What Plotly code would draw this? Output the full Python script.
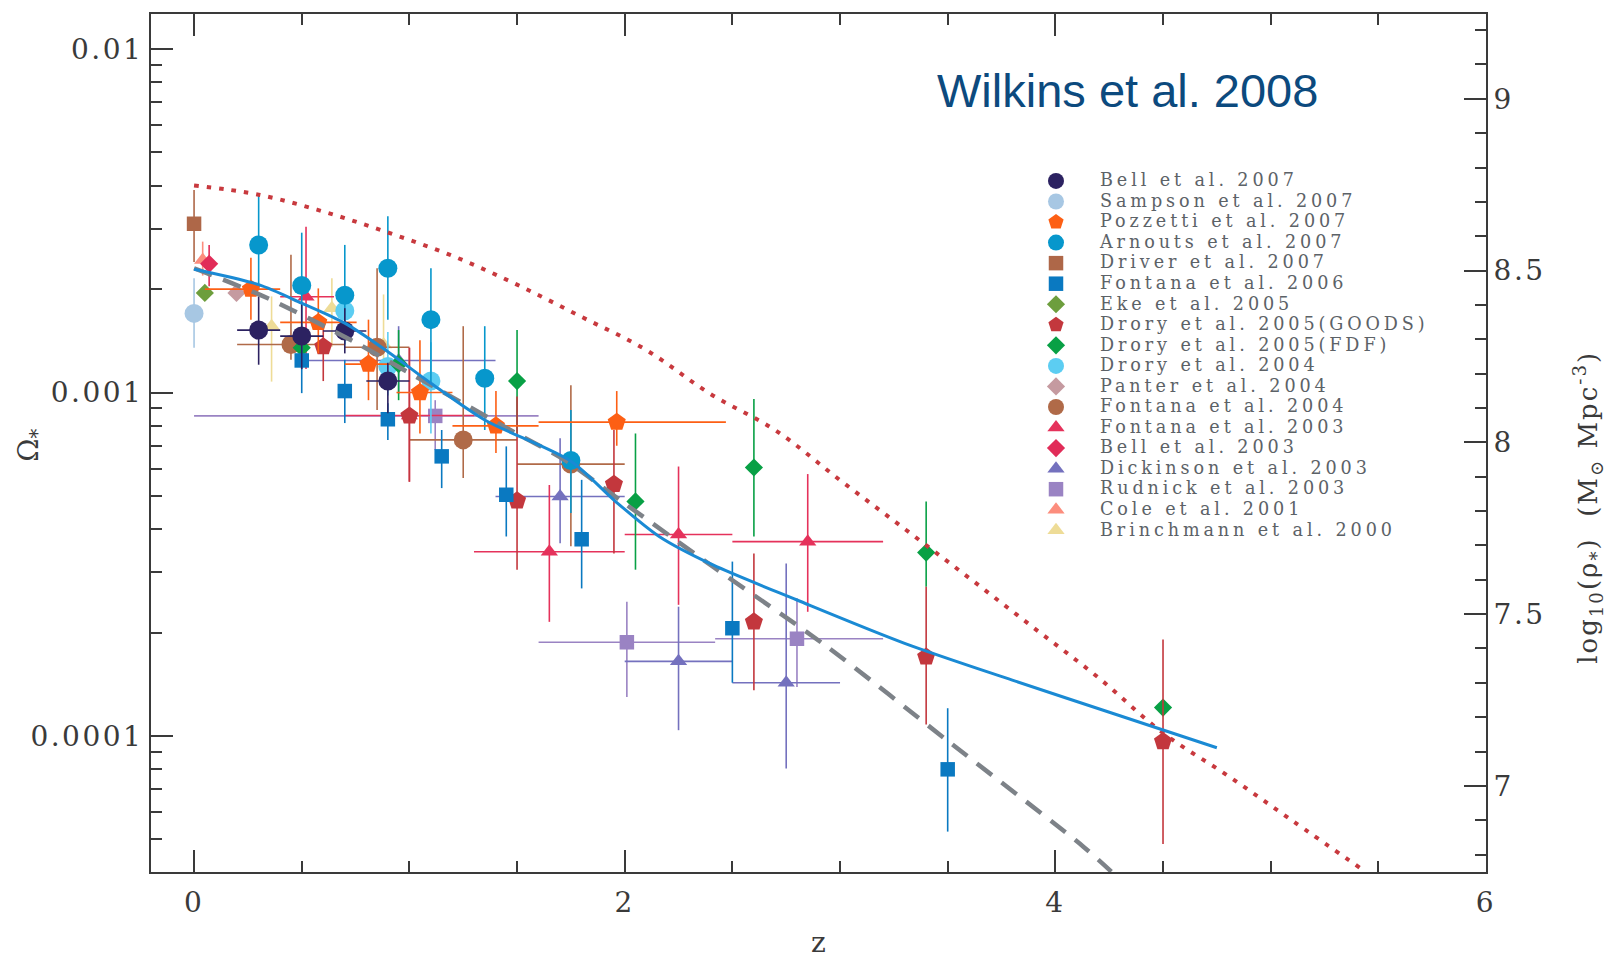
import numpy as np
import plotly.graph_objects as go

# ---------------- data ----------------
# Bell et al. 2007
bell07_z = [0.30, 0.50, 0.70, 0.90]
bell07_om = [1.52e-3, 1.46e-3, 1.51e-3, 1.08e-3]
bell07_lo = [1.205e-3, 1.17e-3, 1.30e-3, 0.87e-3]
bell07_hi = [1.905e-3, 1.82e-3, 1.76e-3, 1.22e-3]
bell07_zlo = [0.20, 0.40, 0.60, 0.80]
bell07_zhi = [0.40, 0.60, 0.80, 1.00]

# Sampson et al. 2007
sampson07_z = [0.0]
sampson07_om = [1.70e-3]
sampson07_lo = [1.35e-3]
sampson07_hi = [2.15e-3]

# Pozzetti et al. 2007
pozzetti07_z = [0.264, 0.577, 0.81, 1.049, 1.402, 1.963]
pozzetti07_om = [2.0e-3, 1.60e-3, 1.21e-3, 1.0e-3, 8.0e-4, 8.2e-4]
pozzetti07_lo = [1.63e-3, 1.30e-3, 0.95e-3, 0.76e-3, 6.67e-4, 7.0e-4]
pozzetti07_hi = [2.47e-3, 2.01e-3, 1.63e-3, 1.42e-3, 1.01e-3, 1.01e-3]
pozzetti07_zlo = [0.05, 0.40, 0.70, 0.94, 1.20, 1.60]
pozzetti07_zhi = [0.40, 0.755, 0.94, 1.20, 1.60, 2.47]

# Arnouts et al. 2007
arnouts07_z = [0.30, 0.50, 0.70, 0.90, 1.10, 1.35, 1.75]
arnouts07_om = [2.69e-3, 2.05e-3, 1.92e-3, 2.30e-3, 1.63e-3, 1.10e-3, 6.34e-4]
arnouts07_lo = [1.99e-3, 1.44e-3, 1.38e-3, 1.63e-3, 1.06e-3, 7.78e-4, 4.46e-4]
arnouts07_hi = [3.81e-3, 2.92e-3, 2.69e-3, 3.26e-3, 2.30e-3, 1.56e-3, 8.9e-4]

# Driver et al. 2007
driver07_z = [0.0]
driver07_om = [3.10e-3]
driver07_lo = [2.40e-3]
driver07_hi = [3.89e-3]

# Fontana et al. 2006
fontana06_z = [0.50, 0.70, 0.90, 1.15, 1.45, 1.80, 2.50, 3.50]
fontana06_om = [1.24e-3, 1.01e-3, 8.36e-4, 6.52e-4, 5.04e-4, 3.74e-4, 2.06e-4, 8.0e-5]
fontana06_lo = [0.996e-3, 0.815e-3, 0.728e-3, 0.527e-3, 3.81e-4, 2.69e-4, 1.43e-4, 5.27e-5]
fontana06_hi = [1.46e-3, 1.245e-3, 0.93e-3, 0.778e-3, 6.97e-4, 5.57e-4, 3.22e-4, 1.205e-4]

# Eke et al. 2005
eke05_z = [0.05]
eke05_om = [1.95e-3]

# Drory et al. 2005 (GOODS)
drory05g_z = [0.60, 1.00, 1.50, 1.95, 2.60, 3.40, 4.50]
drory05g_om = [1.36e-3, 8.55e-4, 4.84e-4, 5.41e-4, 2.15e-4, 1.70e-4, 9.64e-5]
drory05g_lo = [1.08e-3, 5.5e-4, 3.05e-4, 3.40e-4, 1.36e-4, 1.08e-4, 4.85e-5]
drory05g_hi = [1.65e-3, 1.35e-3, 9.73e-4, 7.78e-4, 3.40e-4, 2.72e-4, 1.91e-4]

# Drory et al. 2005 (FDF)
drory05f_z = [0.50, 0.95, 1.50, 2.05, 2.60, 3.40, 4.50]
drory05f_om = [1.35e-3, 1.21e-3, 1.08e-3, 4.82e-4, 6.05e-4, 3.42e-4, 1.21e-4]
drory05f_lo = [1.20e-3, 0.95e-3, 7.6e-4, 3.05e-4, 3.81e-4, 2.72e-4, 1.21e-4]
drory05f_hi = [1.52e-3, 1.52e-3, 1.52e-3, 7.6e-4, 9.57e-4, 4.82e-4, 1.21e-4]

# Drory et al. 2004
drory04_z = [0.70, 0.90, 1.10]
drory04_om = [1.73e-3, 1.19e-3, 1.08e-3]
drory04_lo = [1.50e-3, 0.98e-3, 7.6e-4]
drory04_hi = [1.95e-3, 1.50e-3, 1.40e-3]

# Panter et al. 2004
panter04_z = [0.197]
panter04_om = [1.95e-3]

# Fontana et al. 2004
fontana04_z = [0.45, 0.85, 1.25, 1.75]
fontana04_om = [1.38e-3, 1.355e-3, 7.28e-4, 6.19e-4]
fontana04_lo = [1.245e-3, 8.9e-4, 5.64e-4, 3.57e-4]
fontana04_hi = [2.52e-3, 2.30e-3, 1.56e-3, 1.05e-3]
fontana04_zlo = [0.20, 0.70, 1.00, 1.50]
fontana04_zhi = [0.70, 1.00, 1.50, 2.00]

# Fontana et al. 2003
fontana03_z = [0.52, 1.00, 1.65, 2.25, 2.85]
fontana03_om = [1.90e-3, 8.57e-4, 3.44e-4, 3.86e-4, 3.68e-4]
fontana03_lo = [1.17e-3, 5.5e-4, 2.15e-4, 2.41e-4, 2.30e-4]
fontana03_hi = [3.04e-3, 1.35e-3, 5.38e-4, 6.09e-4, 5.79e-4]
fontana03_zlo = [0.40, 0.70, 1.30, 2.00, 2.50]
fontana03_zhi = [0.65, 1.30, 2.00, 2.50, 3.20]

# Bell et al. 2003
bell03_z = [0.07]
bell03_om = [2.37e-3]
bell03_lo = [2.04e-3]
bell03_hi = [2.69e-3]

# Dickinson et al. 2003
dickinson03_z = [0.95, 1.70, 2.25, 2.75]
dickinson03_om = [1.24e-3, 4.98e-4, 1.65e-4, 1.43e-4]
dickinson03_lo = [9.9e-4, 3.64e-4, 1.04e-4, 8.05e-5]
dickinson03_hi = [1.56e-3, 7.36e-4, 2.38e-4, 3.18e-4]
dickinson03_zlo = [0.52, 1.40, 2.00, 2.50]
dickinson03_zhi = [1.40, 2.00, 2.50, 3.00]

# Rudnick et al. 2003
rudnick03_z = [1.12, 2.01, 2.80]
rudnick03_om = [8.55e-4, 1.875e-4, 1.92e-4]
rudnick03_lo = [6.8e-4, 1.30e-4, 1.39e-4]
rudnick03_hi = [9.5e-4, 2.46e-4, 2.52e-4]
rudnick03_zlo = [0.0, 1.60, 2.42]
rudnick03_zhi = [1.60, 2.42, 3.20]

# Cole et al. 2001
cole01_z = [0.04]
cole01_om = [2.43e-3]
cole01_lo = [2.19e-3]
cole01_hi = [2.75e-3]

# Brinchmann et al. 2000
brinch00_z = [0.36, 0.64, 0.88]
brinch00_om = [1.56e-3, 1.76e-3, 1.38e-3]
brinch00_lo = [1.076e-3, 1.36e-3, 1.14e-3]
brinch00_hi = [1.905e-3, 2.15e-3, 1.93e-3]

# model curves
dotted_z = [0, 0.3, 0.6, 0.9, 1.2, 1.5, 1.8, 2.1, 2.4, 2.7, 3.0, 3.3, 3.6, 3.9,
            4.2, 4.5, 4.8, 5.1, 5.44]
dotted_om = [4.009e-3, 3.767e-3, 3.365e-3, 2.924e-3, 2.500e-3, 2.061e-3, 1.660e-3,
             1.330e-3, 9.886e-4, 7.762e-4, 5.559e-4, 4.009e-4, 2.884e-4, 2.065e-4,
             1.479e-4, 1.021e-4, 7.674e-5, 5.675e-5, 4.03e-5]
dashed_z = [0, 0.34, 0.74, 1.0, 1.5, 1.72, 2.0, 2.41, 2.94, 3.5, 4.13, 4.26]
dashed_om = [2.301e-3, 1.884e-3, 1.409e-3, 1.140e-3, 7.586e-4, 6.368e-4, 4.753e-4,
             3.112e-4, 1.820e-4, 9.683e-5, 4.764e-5, 4.03e-5]
fit_z = [0, 0.3, 0.5, 0.7, 0.9, 1.1, 1.35, 1.75, 1.95, 2.16, 2.41, 2.8, 3.3, 3.8,
         4.3, 4.75]
fit_om = [2.286e-3, 2.061e-3, 1.820e-3, 1.592e-3, 1.315e-3, 1.064e-3, 8.318e-4,
          6.310e-4, 4.864e-4, 3.811e-4, 3.148e-4, 2.489e-4, 1.862e-4, 1.455e-4,
          1.146e-4, 9.247e-5]

# axis ticks
x_ticks = [0, 2, 4, 6]
y_ticks = [1e-4, 1e-3, 1e-2]
y_ticktext = ["0.0001", "0.001", "0.01"]
y2_ticks = [7, 7.5, 8, 8.5, 9]
y2_ticktext = ["7", "7.5", "8", "8.5", "9"]
LOG_RHO_OFFSET = 11.145  # log10(rho_*) = log10(Omega_*) + offset

# (legend name, symbol, colour, size, z, om, lo, hi, zlo, zhi)
series = [
    ("Bell et al. 2007", "circle", "#2c2261", 19, bell07_z, bell07_om, bell07_lo, bell07_hi, bell07_zlo, bell07_zhi),
    ("Sampson et al. 2007", "circle", "#a7c7e3", 19, sampson07_z, sampson07_om, sampson07_lo, sampson07_hi, None, None),
    ("Pozzetti et al. 2007", "pentagon", "#fd5f14", 19, pozzetti07_z, pozzetti07_om, pozzetti07_lo, pozzetti07_hi, pozzetti07_zlo, pozzetti07_zhi),
    ("Arnouts et al. 2007", "circle", "#0797cc", 19, arnouts07_z, arnouts07_om, arnouts07_lo, arnouts07_hi, None, None),
    ("Driver et al. 2007", "square", "#ae6748", 14.5, driver07_z, driver07_om, driver07_lo, driver07_hi, None, None),
    ("Fontana et al. 2006", "square", "#0a79c1", 14.5, fontana06_z, fontana06_om, fontana06_lo, fontana06_hi, None, None),
    ("Eke et al. 2005", "diamond", "#6d9e3d", 14, eke05_z, eke05_om, None, None, None, None),
    ("Drory et al. 2005(GOODS)", "pentagon", "#c3373d", 19, drory05g_z, drory05g_om, drory05g_lo, drory05g_hi, None, None),
    ("Drory et al. 2005(FDF)", "diamond", "#08a045", 14, drory05f_z, drory05f_om, drory05f_lo, drory05f_hi, None, None),
    ("Drory et al. 2004", "circle", "#5ccdf2", 19, drory04_z, drory04_om, drory04_lo, drory04_hi, None, None),
    ("Panter et al. 2004", "diamond", "#c59aa0", 14, panter04_z, panter04_om, None, None, None, None),
    ("Fontana et al. 2004", "circle", "#b06a48", 19, fontana04_z, fontana04_om, fontana04_lo, fontana04_hi, fontana04_zlo, fontana04_zhi),
    ("Fontana et al. 2003", "triangle-up", "#e5325b", 15, fontana03_z, fontana03_om, fontana03_lo, fontana03_hi, fontana03_zlo, fontana03_zhi),
    ("Bell et al. 2003", "diamond", "#e12c58", 14, bell03_z, bell03_om, bell03_lo, bell03_hi, None, None),
    ("Dickinson et al. 2003", "triangle-up", "#7471be", 15, dickinson03_z, dickinson03_om, dickinson03_lo, dickinson03_hi, dickinson03_zlo, dickinson03_zhi),
    ("Rudnick et al. 2003", "square", "#9a83c3", 14.5, rudnick03_z, rudnick03_om, rudnick03_lo, rudnick03_hi, rudnick03_zlo, rudnick03_zhi),
    ("Cole et al. 2001", "triangle-up", "#fc8d7d", 15, cole01_z, cole01_om, cole01_lo, cole01_hi, None, None),
    ("Brinchmann et al. 2000", "triangle-up", "#eedc97", 15, brinch00_z, brinch00_om, brinch00_lo, brinch00_hi, None, None),
]

SERIF = "DejaVu Serif"
fig = go.Figure()

# draw in reverse legend order so that the first entries sit on top
for name, sym, col, size, z, om, lo, hi, zlo, zhi in reversed(series):
    z = np.array(z, float)
    om = np.array(om, float)
    if lo is not None:
        ey = dict(type="data", symmetric=False,
                  array=np.array(hi) - om, arrayminus=om - np.array(lo),
                  width=0, thickness=1.6, color=col)
    else:
        ey = dict(visible=False)
    if zlo is not None:
        ex = dict(type="data", symmetric=False,
                  array=np.array(zhi) - z, arrayminus=z - np.array(zlo),
                  width=0, thickness=1.6, color=col)
    else:
        ex = dict(visible=False)
    fig.add_trace(go.Scatter(
        x=z, y=om, mode="markers",
        name='<span style="font-size:17.6px;letter-spacing:3.9px">' + name + "</span>",
        marker=dict(symbol=sym, color=col, size=size, line=dict(width=0)),
        error_y=ey, error_x=ex,
    ))

fig.add_trace(go.Scatter(x=dotted_z, y=dotted_om, mode="lines", showlegend=False,
                         line=dict(color="#c8393e", width=4, dash="4.5px,8px",
                                   shape="spline", smoothing=1.0)))
fig.add_trace(go.Scatter(x=dashed_z, y=dashed_om, mode="lines", showlegend=False,
                         line=dict(color="#7d8288", width=4.5, dash="19px,12px",
                                   shape="spline", smoothing=0.8)))
fig.add_trace(go.Scatter(x=fit_z, y=fit_om, mode="lines", showlegend=False,
                         line=dict(color="#1a8ad4", width=3, shape="spline", smoothing=0.8)))
# empty trace that activates the right-hand log10(rho) axis
fig.add_trace(go.Scatter(x=[], y=[], yaxis="y2", mode="markers", showlegend=False,
                         hoverinfo="skip"))

y_lo, y_hi = -4.3958, -1.898
axis_col = "#3a3a3a"
tickfont = dict(family=SERIF, size=28, color="#3a3a3a")


def spaced(t):
    return '<span style="letter-spacing:2.5px">' + t + "</span>"


fig.update_layout(
    width=1612, height=967,
    margin=dict(l=151, r=126, t=14, b=95, pad=0),
    paper_bgcolor="white", plot_bgcolor="white",
    showlegend=True,
    legend=dict(x=(1012 - 151) / 1335, y=1 - (166 - 14.4) / 857.6,
                xanchor="left", yanchor="top", bgcolor="rgba(0,0,0,0)",
                borderwidth=0, itemwidth=78, traceorder="reversed",
                font=dict(family=SERIF, size=13.5, color="#5c6267")),
    xaxis=dict(range=[-0.2, 6.0], tickvals=x_ticks,
               ticktext=[spaced(str(v)) for v in x_ticks],
               ticks="inside", ticklen=22, tickwidth=1.5, tickcolor=axis_col,
               showline=True, linecolor=axis_col, linewidth=2, mirror="ticks",
               ticklabelstandoff=4,
               minor=dict(ticks="inside", ticklen=11, dtick=0.5, tickwidth=1.5,
                          tickcolor=axis_col, showgrid=False),
               showgrid=False, zeroline=False, tickfont=tickfont),
    yaxis=dict(type="log", range=[y_lo, y_hi], tickvals=y_ticks,
               ticktext=[spaced(t) for t in y_ticktext],
               ticks="inside", ticklen=22, tickwidth=1.5, tickcolor=axis_col,
               showline=True, linecolor=axis_col, linewidth=2,
               minor=dict(ticks="inside", ticklen=11, tickwidth=1.5, tickcolor=axis_col,
                          tickvals=[m * 10.0 ** k for k in (-5, -4, -3) for m in range(2, 10)],
                          showgrid=False),
               showgrid=False, zeroline=False, tickfont=tickfont),
    yaxis2=dict(overlaying="y", side="right", anchor="x",
                range=[y_lo + LOG_RHO_OFFSET, y_hi + LOG_RHO_OFFSET],
                tickvals=y2_ticks, ticktext=[spaced(t) for t in y2_ticktext],
                ticks="inside", ticklen=22, tickwidth=1.5, tickcolor=axis_col,
                showline=True, linecolor=axis_col, linewidth=2,
                minor=dict(ticks="inside", ticklen=11, dtick=0.1, tickwidth=1.5,
                           tickcolor=axis_col, showgrid=False),
                showgrid=False, zeroline=False, tickfont=tickfont),
    annotations=[
        dict(text="Wilkins et al. 2008", x=(1127.5 - 151) / 1335, y=1 - (90.5 - 14.4) / 857.6,
             xref="paper", yref="paper", showarrow=False, xanchor="center", yanchor="middle",
             font=dict(family="Liberation Sans", size=47, color="#0c4a7e")),
        dict(text="Ω<sub>*</sub>", x=(31 - 151) / 1335, y=1 - (446 - 14.4) / 857.6,
             xref="paper", yref="paper", showarrow=False, textangle=-90,
             xanchor="center", yanchor="middle",
             font=dict(family=SERIF, size=28, color="#3a3a3a")),
        dict(text="z", x=0.5, y=1 - (942 - 14.4) / 857.6,
             xref="paper", yref="paper", showarrow=False,
             xanchor="center", yanchor="middle",
             font=dict(family=SERIF, size=28, color="#3a3a3a")),
        dict(text='<span style="letter-spacing:2px">log<sub>10</sub>(ρ<sub>*</sub>)  (M<sub>⊙</sub> Mpc<sup>-3</sup>)</span>',
             x=(1588 - 151) / 1335, y=1 - (508 - 14.4) / 857.6,
             xref="paper", yref="paper", showarrow=False, textangle=-90,
             xanchor="center", yanchor="middle",
             font=dict(family=SERIF, size=26, color="#3a3a3a")),
    ],
)

fig.write_html("out.html")
